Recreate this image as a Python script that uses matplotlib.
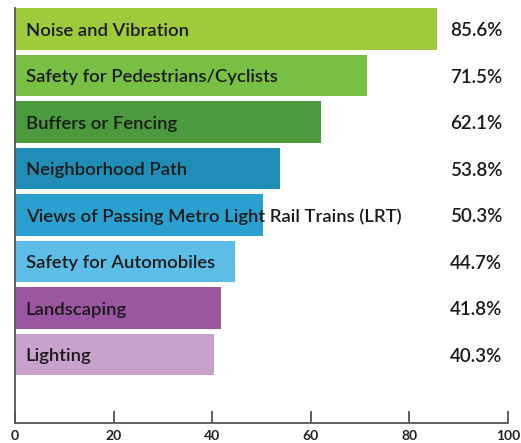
import matplotlib
matplotlib.use("Agg")
import matplotlib.pyplot as plt

# survey categories, top to bottom
categories = [
    "Noise and Vibration",
    "Safety for Pedestrians/Cyclists",
    "Buffers or Fencing",
    "Neighborhood Path",
    "Views of Passing Metro Light Rail Trains (LRT)",
    "Safety for Automobiles",
    "Landscaping",
    "Lighting",
]
values = [85.6, 71.5, 62.1, 53.8, 50.3, 44.7, 41.8, 40.3]
bar_colors = ["#9dcb3c", "#77c043", "#4b9a3d", "#1f8db5",
              "#2aa0d0", "#5cbde6", "#9a56a1", "#c8a1cd"]
xticks = [0, 20, 40, 60, 80, 100]

plt.rcParams['font.family'] = ['Lato', 'DejaVu Sans']

fig = plt.figure(figsize=(5.21, 4.43), dpi=100)
ax = fig.add_axes([15 / 521, 20 / 443, 493 / 521, 415 / 443])

ypos = list(range(len(categories)))
ax.barh(ypos, values, height=0.89, color=bar_colors, zorder=2)

for y, name, v in zip(ypos, categories, values):
    ax.text(2.2, y + 0.04, name, va="center", ha="left", fontsize=13.3,
            fontweight="semibold", color="#1a1a1a", zorder=3)
    ax.text(98.8, y + 0.04, f"{v:.1f}%", va="center", ha="right", fontsize=13.5,
            fontweight="semibold", color="#1a1a1a", zorder=3)

ax.set_xlim(0, 100)
ax.set_ylim(8.47, -0.45)
ax.set_xticks(xticks)
ax.set_xticklabels([str(t) for t in xticks], fontsize=10, fontweight="bold",
                   color="#222222")
ax.set_yticks([])
ax.tick_params(axis="x", direction="in", length=8.5, width=1.2,
               color="#444444", pad=5)

for s in ["top", "right"]:
    ax.spines[s].set_visible(False)
for s in ["left", "bottom"]:
    ax.spines[s].set_color("#555555")
    ax.spines[s].set_linewidth(1.3)

fig.savefig("out.png", dpi=100)
